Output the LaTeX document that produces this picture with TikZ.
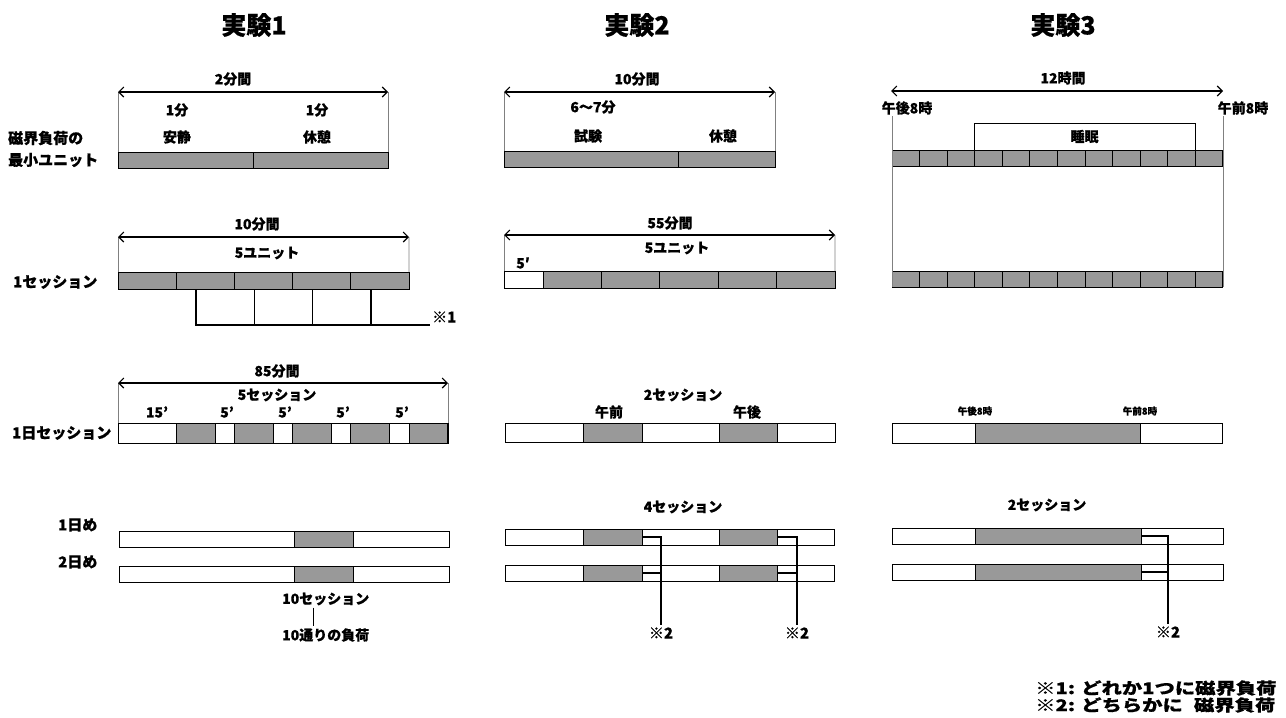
\documentclass[tikz,border=0pt]{standalone}
\usepackage{fontspec}
\setmainfont{Noto Sans CJK JP}[BoldFeatures={FakeBold=0.6}]
\newfontfamily\notefont{Noto Sans CJK JP}[FakeStretch=1.27,BoldFeatures={FakeBold=0.6}]
\usetikzlibrary{arrows.meta}
\definecolor{shade}{gray}{0.6}
\begin{document}
\begin{tikzpicture}[x=1pt,y=-1pt,
  ttl/.style={font=\bfseries\fontsize{25}{27}\selectfont,inner sep=0},
  lbl/.style={font=\bfseries\fontsize{14}{16}\selectfont,inner sep=0},
  small/.style={font=\bfseries\fontsize{9.5}{11}\selectfont,inner sep=0},
  rowlbl/.style={font=\bfseries\fontsize{15}{17}\selectfont,inner sep=0,anchor=west},
  note/.style={font=\notefont\bfseries\fontsize{16}{18}\selectfont,inner sep=0,anchor=west},
  bar/.style={draw,line width=1pt,inner sep=0,outer sep=0,anchor=north west},
  sh/.style={bar,fill=shade},
  wh/.style={bar,fill=white},
  span/.style={{Straight Barb[length=5pt,width=10pt]}-{Straight Barb[length=5pt,width=10pt]},line width=1.1pt},
  guide/.style={line width=0.6pt,gray},
  conn/.style={line width=1.5pt},
  refmark/.style={font=\bfseries\fontsize{15}{17}\selectfont,inner sep=2pt}
]
\fill[white] (0,0) rectangle (1286,718);
\useasboundingbox (0,0) rectangle (1286,718);

% ---------- titles ----------
\node[ttl] (t1) at (254,25) {実験1};
\node[ttl] (t2) at (637,25) {実験2};
\node[ttl] (t3) at (1063,25) {実験3};

% ---------- row labels ----------
\node[rowlbl] (r1a) at (8,138) {磁界負荷の};
\node[rowlbl] (r1b) at (8,160) {最小ユニット};
\node[rowlbl] (r2) at (13,282) {1セッション};
\node[rowlbl] (r3) at (12,433) {1日セッション};
\node[rowlbl] (r4a) at (58,525) {1日め};
\node[rowlbl] (r4b) at (58,562) {2日め};

% ================= Experiment 1 =================
\coordinate (e1aL) at (118,92);
\coordinate (e1aR) at (388,92);
\node[sh,minimum width=135pt,minimum height=16pt] (e1u1) at (118,152) {};
\node[sh,minimum width=135pt,minimum height=16pt] (e1u2) at (253,152) {};
\draw[guide] (e1aL) -- (e1u1.north west);
\draw[guide] (e1aR) -- (e1u2.north east);
\draw[span] (e1aL) -- (e1aR);
\node[lbl] (e1l1) at (233,79) {2分間};
\node[lbl] (e1m1) at (177,110) {1分};
\node[lbl] (e1m2) at (317,110) {1分};
\node[lbl] (e1q1) at (177,137) {安静};
\node[lbl] (e1q2) at (317,137) {休憩};

\coordinate (e1bL) at (118,237);
\coordinate (e1bR) at (409,237);
\foreach \i in {1,...,5}
  \node[sh,minimum width=58.2pt,minimum height=17pt] (e1s\i) at ({118+58.2*(\i-1)},272) {};
\draw[guide] (e1bL) -- (e1s1.north west);
\draw[guide] (e1bR) -- (e1s5.north east);
\draw[span] (e1bL) -- (e1bR);
\node[lbl] (e1l2) at (257,224) {10分間};
\node[lbl] (e1l3) at (267,253) {5ユニット};
\node[refmark,anchor=west] (n1) at (430,317) {※1};
\draw[conn] ([xshift=20pt]e1s2.south west) -- ++(0,36) -- ([yshift=-8pt]n1.west);
\foreach \i in {3,4,5}
  \draw[conn] ([xshift=20pt]e1s\i.south west) -- ++(0,36);

\coordinate (e1cL) at (118,383);
\coordinate (e1cR) at (448,383);
\node[wh,minimum width=330pt,minimum height=20pt] (e1c) at (118,423) {};
\foreach \k in {1,...,5}
  \node[sh,minimum width=38.82pt,minimum height=20pt] (e1cs\k) at ({118+15*\k*3.882},423) {};
\draw[guide] (e1cL) -- (e1c.north west);
\draw[guide] (e1cR) -- (e1c.north east);
\draw[span] (e1cL) -- (e1cR);
\node[lbl] (e1l4) at (277,371) {85分間};
\node[lbl] (e1l5) at (277,395) {5セッション};
\node[lbl] (e1p0) at (157,412) {15’};
\node[lbl] (e1p1) at (227,412) {5’};
\node[lbl] (e1p2) at (285,412) {5’};
\node[lbl] (e1p3) at (343,412) {5’};
\node[lbl] (e1p4) at (402,412) {5’};

\node[wh,minimum width=330pt,minimum height=16pt] (e1d1) at (119,531) {};
\node[sh,minimum width=59pt,minimum height=16pt] (e1d1s) at (294,531) {};
\node[wh,minimum width=330pt,minimum height=16pt] (e1d2) at (119,566) {};
\node[sh,minimum width=59pt,minimum height=16pt] (e1d2s) at (294,566) {};
\node[lbl,anchor=west] (e1l6) at (282,599) {10セッション};
\node[lbl,anchor=west] (e1l7) at (282,635) {10通りの負荷};
\draw[line width=1pt] ([yshift=-2pt]e1l6.south west -| 313,0) -- ([yshift=2pt]e1l7.north west -| 313,0);

% ================= Experiment 2 =================
\coordinate (e2aL) at (504,92);
\coordinate (e2aR) at (775,92);
\node[sh,minimum width=174pt,minimum height=16pt] (e2u1) at (504,151) {};
\node[sh,minimum width=97pt,minimum height=16pt] (e2u2) at (678,151) {};
\draw[guide] (e2aL) -- (e2u1.north west);
\draw[guide] (e2aR) -- (e2u2.north east);
\draw[span] (e2aL) -- (e2aR);
\node[lbl] (e2l1) at (637,79) {10分間};
\node[lbl] (e2l2) at (593,107) {6〜7分};
\node[lbl] (e2q1) at (588,136) {試験};
\node[lbl] (e2q2) at (723,136) {休憩};

\coordinate (e2bL) at (504,235);
\coordinate (e2bR) at (835,235);
\node[wh,minimum width=39pt,minimum height=17pt] (e2s0) at (504,271) {};
\foreach \i in {1,...,5}
  \node[sh,minimum width=58.4pt,minimum height=17pt] (e2s\i) at ({543+58.4*(\i-1)},271) {};
\draw[guide] (e2bL) -- (e2s0.north west);
\draw[guide] (e2bR) -- (e2s5.north east);
\draw[span] (e2bL) -- (e2bR);
\node[lbl] (e2l3) at (670,223) {55分間};
\node[lbl] (e2l4) at (677,248) {5ユニット};
\node[lbl] (e2l5) at (523,263) {5′};

\node[wh,minimum width=330pt,minimum height=19pt] (e2c) at (505,423) {};
\node[sh,minimum width=59pt,minimum height=19pt] (e2ca) at (583,423) {};
\node[sh,minimum width=58pt,minimum height=19pt] (e2cb) at (719,423) {};
\node[lbl] (e2l6) at (683,395) {2セッション};
\node[lbl] (e2l7) at (609,412) {午前};
\node[lbl] (e2l8) at (747,412) {午後};

\node[lbl] (e2l9) at (683,507) {4セッション};
\node[wh,minimum width=329pt,minimum height=16pt] (e2d1) at (505,529) {};
\node[sh,minimum width=59pt,minimum height=16pt] (e2d1a) at (583,529) {};
\node[sh,minimum width=58pt,minimum height=16pt] (e2d1b) at (719,529) {};
\node[wh,minimum width=329pt,minimum height=16pt] (e2d2) at (505,565) {};
\node[sh,minimum width=59pt,minimum height=16pt] (e2d2a) at (583,565) {};
\node[sh,minimum width=58pt,minimum height=16pt] (e2d2b) at (719,565) {};
\node[refmark] (n2a) at (661,633) {※2};
\node[refmark] (n2b) at (797,633) {※2};
\draw[conn] (e2d1a.east) -| (n2a.north);
\draw[conn] (e2d2a.east) -- (e2d2a.east -| n2a.north);
\draw[conn] (e2d1b.east) -| (n2b.north);
\draw[conn] (e2d2b.east) -- (e2d2b.east -| n2b.north);

% ================= Experiment 3 =================
\coordinate (e3aL) at (891,91);
\coordinate (e3aR) at (1223,91);
\draw[span] (e3aL) -- (e3aR);
\node[lbl] (e3l1) at (1063,78) {12時間};
\node[lbl] (e3l2) at (907,108) {午後8時};
\node[lbl] (e3l3) at (1243,108) {午前8時};
\foreach \i in {0,...,11}{
  \node[sh,minimum width=27.58pt,minimum height=16pt] (e3u\i) at ({892+27.58*\i},150) {};
  \node[sh,minimum width=27.58pt,minimum height=16pt] (e3v\i) at ({892+27.58*\i},271) {};
}
\draw[guide] (e3v0.south west |- 0,116) -- (e3v0.south west);
\draw[guide] (e3v11.south east |- 0,116) -- (e3v11.south east);
\node[draw,line width=1pt,minimum width=221pt,minimum height=27pt,inner sep=0,lbl] (slp) at (1084.5,136.5) {睡眠};

\node[wh,minimum width=330pt,minimum height=20pt] (e3c) at (892,423) {};
\node[sh,minimum width=165pt,minimum height=20pt] (e3cs) at (975,423) {};
\node[small] (e3l4) at (975,411) {午後8時};
\node[small] (e3l5) at (1140,411) {午前8時};

\node[lbl] (e3l6) at (1047,505) {2セッション};
\node[wh,minimum width=331pt,minimum height=16pt] (e3d1) at (892,528) {};
\node[sh,minimum width=166pt,minimum height=16pt] (e3d1s) at (975,528) {};
\node[wh,minimum width=331pt,minimum height=16pt] (e3d2) at (892,564) {};
\node[sh,minimum width=166pt,minimum height=16pt] (e3d2s) at (975,564) {};
\node[refmark] (n3) at (1168,632) {※2};
\draw[conn] (e3d1s.east) -| (n3.north);
\draw[conn] (e3d2s.east) -- (e3d2s.east -| n3.north);

% ---------- footnotes ----------
\node[note] (f1) at (1035,688) {※1: どれか1つに磁界負荷};
\node[note] (f2) at (1035,705) {※2: どちらかに\hspace{0.7em}磁界負荷};
\end{tikzpicture}
\end{document}
